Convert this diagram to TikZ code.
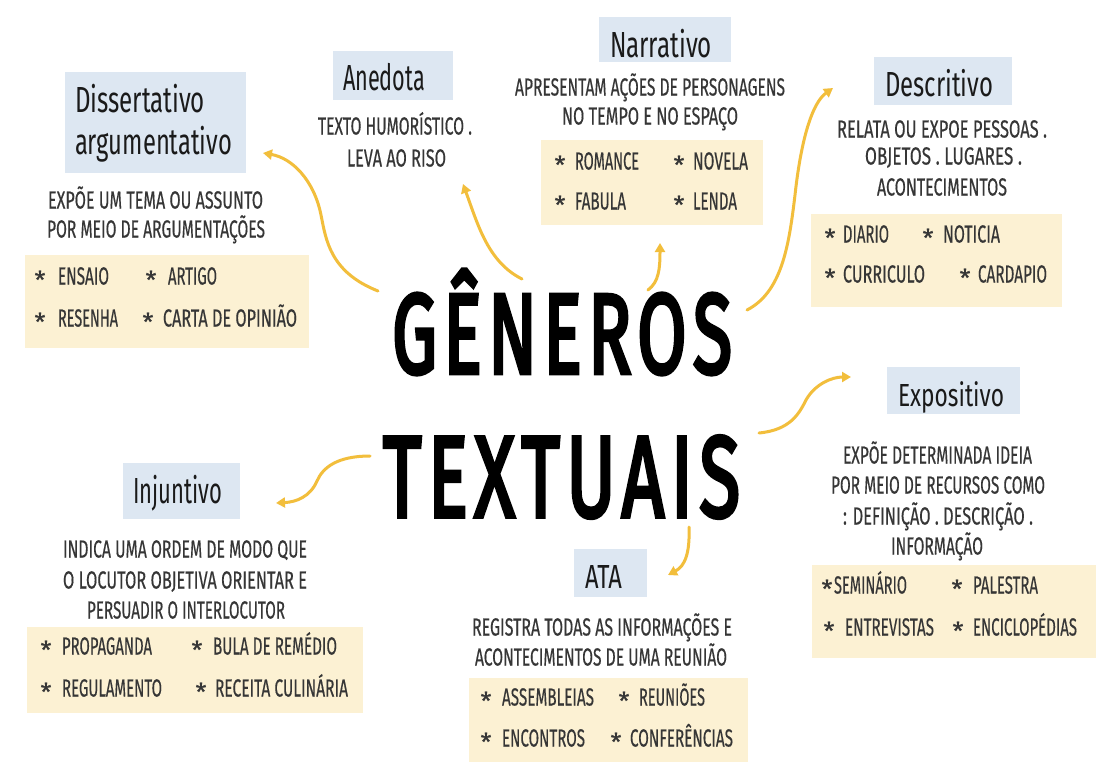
\documentclass[tikz,border=0pt]{standalone}
\usepackage{fontspec}
\usepackage{graphicx}
\usetikzlibrary{arrows.meta,fit}
\setmainfont{Fira Sans}
\newfontfamily\bodyfont[FakeBold=0.5]{Fira Sans}
\newfontfamily\titlefont[LetterSpace=9,FakeBold=4]{Fira Sans}
\definecolor{headblue}{HTML}{DDE7F2}
\definecolor{cream}{HTML}{FCF1D3}
\definecolor{arrowgold}{HTML}{F2BE3C}
\definecolor{bodygray}{HTML}{363636}
\definecolor{headink}{HTML}{1A1A1A}
\newcommand\capfit[3]{\resizebox{#1pt}{#2pt}{\raisebox{0pt}[\fontcharht\font`E][0pt]{#3}}}
\newcounter{tnum}
\newcommand\tline[4]{\stepcounter{tnum}\node[txt, anchor=west] (tl\arabic{tnum}) at (#1,#2) {\capfit{#3}{17}{#4}};}
\newcommand\titem[5]{\stepcounter{tnum}\node[star, anchor=base] (st\arabic{tnum}) at (#1,#3+13) {*};\node[txt, anchor=west] (it\arabic{tnum}) at (#2,#3) {\capfit{#4}{17}{#5}};}
\tikzset{
  headbox/.style={fill=headblue, inner sep=0pt, draw=none},
  itembox/.style={fill=cream, inner sep=0pt, draw=none},
  txt/.style={inner sep=0pt, outer sep=0pt, text=bodygray, font=\bodyfont\fontsize{24}{24}\selectfont},
  headtxt/.style={inner sep=0pt, outer sep=0pt, text=headink, anchor=south west, font=\fontsize{36}{36}\selectfont},
  star/.style={inner sep=0pt, outer sep=0pt, text=bodygray, font=\bodyfont\fontsize{25}{25}\selectfont},
  titletxt/.style={inner sep=0pt, outer sep=0pt, anchor=west, font=\titlefont\fontsize{100}{100}\selectfont},
  conn/.style={draw=arrowgold, line width=3pt, line cap=round, -{Triangle[length=9pt,width=10pt]}},
}
\begin{document}
\begin{tikzpicture}[x=1pt,y=-1pt]
\fill[white] (0,0) rectangle (1100,769);
\useasboundingbox (0,0) rectangle (1100,769);

% ---------- boxes ----------
\node[headbox, fit={(65,72) (246,173)}] (bDis) {};
\node[headbox, fit={(333,51) (453,100)}] (bAne) {};
\node[headbox, fit={(599,17) (731,62)}] (bNar) {};
\node[headbox, fit={(874,57) (1012,105)}] (bDes) {};
\node[headbox, fit={(887,367) (1020,414)}] (bExp) {};
\node[headbox, fit={(123,463) (240,519)}] (bInj) {};
\node[headbox, fit={(574,549) (647,597)}] (bAta) {};

\node[itembox, fit={(25,255) (309,348)}] (iDis) {};
\node[itembox, fit={(541,140) (763,225)}] (iNar) {};
\node[itembox, fit={(811,214) (1062,307)}] (iDes) {};
\node[itembox, fit={(812,565) (1096,658)}] (iExp) {};
\node[itembox, fit={(27,627) (363,713)}] (iInj) {};
\node[itembox, fit={(469,678) (748,762)}] (iAta) {};

% ---------- headers ----------
\node[headtxt] (hDis1) at (75,112) {\capfit{130}{25}{Dissertativo}};
\node[headtxt] (hDis2) at (75,154) {\capfit{157}{25}{argumentativo}};
\node[headtxt] (hAne) at (343,90) {\capfit{82}{25}{Anedota}};
\node[headtxt] (hNar) at (610,57) {\capfit{102}{25}{Narrativo}};
\node[headtxt] (hDes) at (885,96) {\capfit{108}{24}{Descritivo}};
\node[headtxt] (hExp) at (898,406) {\capfit{106}{22}{Expositivo}};
\node[headtxt] (hInj) at (133,503) {\capfit{89}{25}{Injuntivo}};
\node[headtxt] (hAta) at (585,588) {\capfit{37}{23}{ATA}};

% ---------- Dissertativo ----------
\tline{48}{200}{215}{EXPÕE UM TEMA OU ASSUNTO}
\tline{47}{229}{218}{POR MEIO DE ARGUMENTAÇÕES}
\titem{40}{58}{276}{51}{ENSAIO}
\titem{151}{168}{276}{49}{ARTIGO}
\titem{40}{58}{318}{60}{RESENHA}
\titem{148}{163}{318}{134}{CARTA DE OPINIÃO}

% ---------- Anedota ----------
\tline{318}{126}{154}{TEXTO HUMORÍSTICO .}
\tline{347}{158}{99}{LEVA AO RISO}

% ---------- Narrativo ----------
\tline{515}{87}{270}{APRESENTAM AÇÕES DE PERSONAGENS}
\tline{562}{116}{176}{NO TEMPO E NO ESPAÇO}
\titem{560}{575}{161}{64}{ROMANCE}
\titem{679}{693}{161}{55}{NOVELA}
\titem{560}{575}{201}{51}{FABULA}
\titem{679}{693}{201}{44}{LENDA}

% ---------- Descritivo ----------
\tline{837}{129}{210}{RELATA OU EXPOE PESSOAS .}
\tline{865}{156}{157}{OBJETOS . LUGARES .}
\tline{877}{187}{130}{ACONTECIMENTOS}
\titem{830}{843}{234}{46}{DIARIO}
\titem{928}{943}{234}{57}{NOTICIA}
\titem{830}{843}{274}{82}{CURRICULO}
\titem{965}{978}{274}{69}{CARDAPIO}

% ---------- Expositivo ----------
\tline{843}{455}{189}{EXPÕE DETERMINADA IDEIA}
\tline{831}{485}{214}{POR MEIO DE RECURSOS COMO}
\tline{843}{516}{190}{: DEFINIÇÃO . DESCRIÇÃO .}
\tline{891}{546}{92}{INFORMAÇÃO}
\titem{827}{834}{585}{73}{SEMINÁRIO}
\titem{957}{973}{585}{65}{PALESTRA}
\titem{829}{845}{627}{89}{ENTREVISTAS}
\titem{958}{973}{627}{104}{ENCICLOPÉDIAS}

% ---------- Injuntivo ----------
\tline{63}{549}{244}{INDICA UMA ORDEM DE MODO QUE}
\tline{63}{580}{244}{O LOCUTOR OBJETIVA ORIENTAR E}
\tline{87}{610}{198}{PERSUADIR O INTERLOCUTOR}
\titem{46}{62}{646}{90}{PROPAGANDA}
\titem{197}{213}{646}{124}{BULA DE REMÉDIO}
\titem{46}{62}{688}{100}{REGULAMENTO}
\titem{201}{215}{688}{133}{RECEITA CULINÁRIA}

% ---------- ATA ----------
\tline{472}{627}{260}{REGISTRA TODAS AS INFORMAÇÕES E}
\tline{475}{657}{252}{ACONTECIMENTOS DE UMA REUNIÃO}
\titem{486}{502}{697}{92}{ASSEMBLEIAS}
\titem{624}{639}{697}{66}{REUNIÕES}
\titem{486}{502}{738}{83}{ENCONTROS}
\titem{616}{630}{738}{103}{CONFERÊNCIAS}

% ---------- title ----------
\node[titletxt, text=black] (gen) at (392,334) {\capfit{340}{78}{GÊNEROS}};
\node[titletxt, text=black] (tex) at (383,477) {\capfit{357}{79}{TEXTUAIS}};

% ---------- connectors ----------
\coordinate (aDs) at (378,291); \coordinate (aDe) at (263,153);
\coordinate (aAs) at (522,279); \coordinate (aAe) at (463,184);
\coordinate (aNs) at (648,290); \coordinate (aNe) at (660,243);
\coordinate (aRs) at (747,310); \coordinate (aRe) at (833,88);
\coordinate (aEs) at (759,433); \coordinate (aEe) at (851,377);
\coordinate (aTs) at (689,527); \coordinate (aTe) at (668,575);
\coordinate (aIs) at (370,456); \coordinate (aIe) at (276,503);

\draw[conn] (aDs) .. controls (330,272) and (326,240) .. (321,215) .. controls (314,180) and (292,158) .. (aDe);
\draw[conn] (aAs) .. controls (488,262) and (478,225) .. (aAe);
\draw[conn] (aNs) .. controls (659,282) and (660,268) .. (aNe);
\draw[conn] (aRs) .. controls (782,292) and (789,245) .. (795,195) .. controls (801,140) and (812,103) .. (aRe);
\draw[conn] (aEs) .. controls (790,430) and (799,414) .. (806,400) .. controls (815,384) and (832,377) .. (aEe);
\draw[conn] (aTs) .. controls (690,553) and (685,566) .. (aTe);
\draw[conn] (aIs) .. controls (338,456) and (323,467) .. (317,481) .. controls (310,497) and (296,502) .. (aIe);
\end{tikzpicture}
\end{document}
